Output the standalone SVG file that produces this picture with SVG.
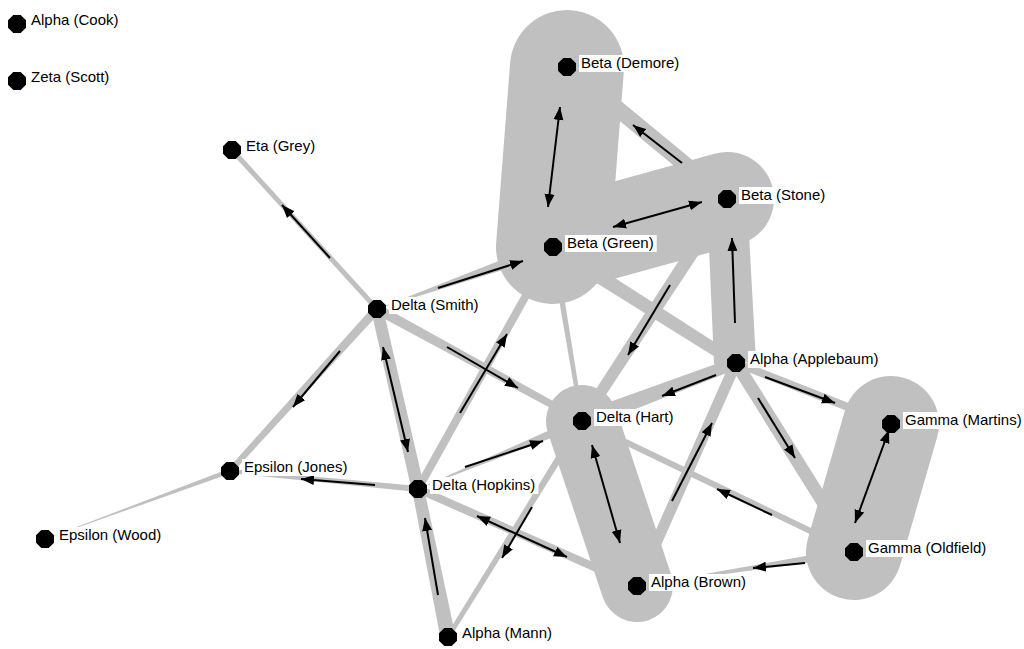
<svg xmlns="http://www.w3.org/2000/svg" width="1024" height="649" viewBox="0 0 1024 649">
<style>
.hull{stroke:#c0c0c0;stroke-linecap:round;fill:none}
.e{fill:#c0c0c0}
.el{stroke:#c0c0c0;fill:none}
.a{stroke:#000;stroke-width:2;fill:none;marker-end:url(#ah)}
.d{marker-start:url(#ah)}
.lb{fill:#fff}
.n{fill:#000}
text{font-family:"Liberation Sans",Arial,sans-serif;font-size:15px;fill:#000}
</style>
<defs>
<marker id="ah" markerUnits="userSpaceOnUse" markerWidth="14" markerHeight="11" refX="13" refY="5" orient="auto-start-reverse" viewBox="0 0 14 10">
<path d="M0,0 L13,5 L0,10 z" fill="#000"/>
</marker>
<polygon id="oct" points="9,3.7 3.7,9 -3.7,9 -9,3.7 -9,-3.7 -3.7,-9 3.7,-9 9,-3.7"/>
</defs>
<rect width="1024" height="649" fill="#fff"/>
<g id="hulls">
<line class="hull" x1="567" y1="67" x2="553" y2="247" stroke-width="114"/>
<line class="hull" x1="553" y1="247" x2="727" y2="199" stroke-width="94"/>
<line class="hull" x1="582" y1="421" x2="637" y2="586" stroke-width="72"/>
<line class="hull" x1="891" y1="424" x2="854" y2="552" stroke-width="96"/>
</g>
<g id="connectors">
<line class="el" x1="232" y1="150" x2="377" y2="309" stroke-width="5"/>
<polygon class="e" points="373.7,306 227.8,469 232.2,473 380.3,312"/>
<polygon class="e" points="229.1,468.7 45,539 230.9,473.3"/>
<polygon class="e" points="418.3,486 230.2,469 229.8,473 417.7,492"/>
<polygon class="e" points="371.1,310.3 411.7,490.4 424.3,487.6 382.9,307.7"/>
<polygon class="e" points="455.4,635.5 423.9,487.8 412.1,490.2 440.6,638.5"/>
<polygon class="e" points="374.6,313.4 580.3,424.1 583.7,417.9 379.4,304.6"/>
<line class="el" x1="418" y1="489" x2="553" y2="247" stroke-width="8"/>
<polygon class="e" points="550,247.5 580,421.3 584,420.7 556,246.5"/>
<polygon class="e" points="549,253.3 732.8,368.1 739.2,357.9 557,240.7"/>
<polygon class="e" points="721.1,195.2 577.4,418 586.6,424 732.9,202.8"/>
<polygon class="e" points="756,361.9 747,197.9 707,200.1 714,364.2"/>
<polygon class="e" points="733.9,357.4 579,413 585,429 738.1,368.6"/>
<line class="el" x1="736" y1="363" x2="637" y2="586" stroke-width="11"/>
<line class="el" x1="736" y1="363" x2="891" y2="424" stroke-width="8"/>
<line class="el" x1="736" y1="363" x2="854" y2="552" stroke-width="13"/>
<line class="el" x1="854" y1="552" x2="582" y2="421" stroke-width="6"/>
<polygon class="e" points="853.3,547.6 637,586 854.7,556.4"/>
<polygon class="e" points="418,489 583.9,425.6 580.1,416.4"/>
<line class="el" x1="418" y1="489" x2="637" y2="586" stroke-width="8"/>
<polygon class="e" points="579,419.2 445.9,635.7 450.1,638.3 585,422.8"/>
<line class="el" x1="567" y1="67" x2="727" y2="199" stroke-width="16"/>
<polygon class="e" points="377,309 555.3,253.6 550.7,240.4"/>
<g id="arrows">
<line class="a" x1="330" y1="258" x2="282" y2="205"/>
<line class="a" x1="340" y1="351" x2="293" y2="407"/>
<line class="a" x1="375" y1="485" x2="301" y2="479"/>
<line class="a d" x1="383" y1="347" x2="408" y2="452"/>
<line class="a" x1="438" y1="595" x2="425" y2="518"/>
<line class="a" x1="447" y1="347" x2="518" y2="388"/>
<line class="a" x1="460" y1="413" x2="507" y2="334"/>
<line class="a" x1="438" y1="288" x2="523" y2="261"/>
<line class="a" x1="670" y1="285" x2="628" y2="355"/>
<line class="a" x1="735" y1="323" x2="732" y2="238"/>
<line class="a" x1="716" y1="375" x2="662" y2="396"/>
<line class="a" x1="672" y1="501" x2="712" y2="423"/>
<line class="a" x1="765" y1="377" x2="835" y2="403"/>
<line class="a" x1="758" y1="398" x2="795" y2="458"/>
<line class="a" x1="772" y1="515" x2="717" y2="489"/>
<line class="a" x1="805" y1="563" x2="753" y2="568"/>
<line class="a d" x1="592" y1="445" x2="620" y2="543"/>
<line class="a" x1="465" y1="467" x2="543" y2="441"/>
<line class="a d" x1="477" y1="516" x2="567" y2="557"/>
<line class="a" x1="532" y1="507" x2="502" y2="558"/>
<line class="a" x1="682" y1="163" x2="633" y2="125"/>
<line class="a d" x1="560" y1="107" x2="548" y2="207"/>
<line class="a d" x1="702" y1="202" x2="613" y2="227"/>
<line class="a d" x1="889" y1="430" x2="855" y2="523"/>
</g>
</g>
<g id="n-cook"><use href="#oct" x="17" y="24" class="n"/><rect class="lb" x="29" y="12" width="92.5" height="17"/><text x="31" y="25">Alpha (Cook)</text></g>
<g id="n-scott"><use href="#oct" x="17" y="81" class="n"/><rect class="lb" x="29" y="69" width="83.4" height="17"/><text x="31" y="82">Zeta (Scott)</text></g>
<g id="n-grey"><use href="#oct" x="232" y="150" class="n"/><rect class="lb" x="244" y="138" width="74.2" height="17"/><text x="246" y="151">Eta (Grey)</text></g>
<g id="n-demore"><use href="#oct" x="567" y="67" class="n"/><rect class="lb" x="579" y="55" width="103.4" height="17"/><text x="581" y="68">Beta (Demore)</text></g>
<g id="n-stone"><use href="#oct" x="727" y="199" class="n"/><rect class="lb" x="739" y="187" width="89.2" height="17"/><text x="741" y="200">Beta (Stone)</text></g>
<g id="n-green"><use href="#oct" x="553" y="247" class="n"/><rect class="lb" x="565" y="235" width="91.7" height="17"/><text x="567" y="248">Beta (Green)</text></g>
<g id="n-smith"><use href="#oct" x="377" y="309" class="n"/><rect class="lb" x="389" y="297" width="92.5" height="17"/><text x="391" y="310">Delta (Smith)</text></g>
<g id="n-applebaum"><use href="#oct" x="736" y="363" class="n"/><rect class="lb" x="748" y="351" width="133.4" height="17"/><text x="750" y="364">Alpha (Applebaum)</text></g>
<g id="n-hart"><use href="#oct" x="582" y="421" class="n"/><rect class="lb" x="594" y="409" width="82.5" height="17"/><text x="596" y="422">Delta (Hart)</text></g>
<g id="n-martins"><use href="#oct" x="891" y="424" class="n"/><rect class="lb" x="903" y="412" width="121" height="17"/><text x="905" y="425">Gamma (Martins)</text></g>
<g id="n-jones"><use href="#oct" x="230" y="471" class="n"/><rect class="lb" x="242" y="459" width="108.4" height="17"/><text x="244" y="472">Epsilon (Jones)</text></g>
<g id="n-hopkins"><use href="#oct" x="418" y="489" class="n"/><rect class="lb" x="430" y="477" width="108.4" height="17"/><text x="432" y="490">Delta (Hopkins)</text></g>
<g id="n-wood"><use href="#oct" x="45" y="539" class="n"/><rect class="lb" x="57" y="527" width="107.5" height="17"/><text x="59" y="540">Epsilon (Wood)</text></g>
<g id="n-oldfield"><use href="#oct" x="854" y="552" class="n"/><rect class="lb" x="866" y="540" width="123.4" height="17"/><text x="868" y="553">Gamma (Oldfield)</text></g>
<g id="n-brown"><use href="#oct" x="637" y="586" class="n"/><rect class="lb" x="649" y="574" width="100" height="17"/><text x="651" y="587">Alpha (Brown)</text></g>
<g id="n-mann"><use href="#oct" x="448" y="637" class="n"/><rect class="lb" x="460" y="625" width="95" height="17"/><text x="462" y="638">Alpha (Mann)</text></g>
</svg>
